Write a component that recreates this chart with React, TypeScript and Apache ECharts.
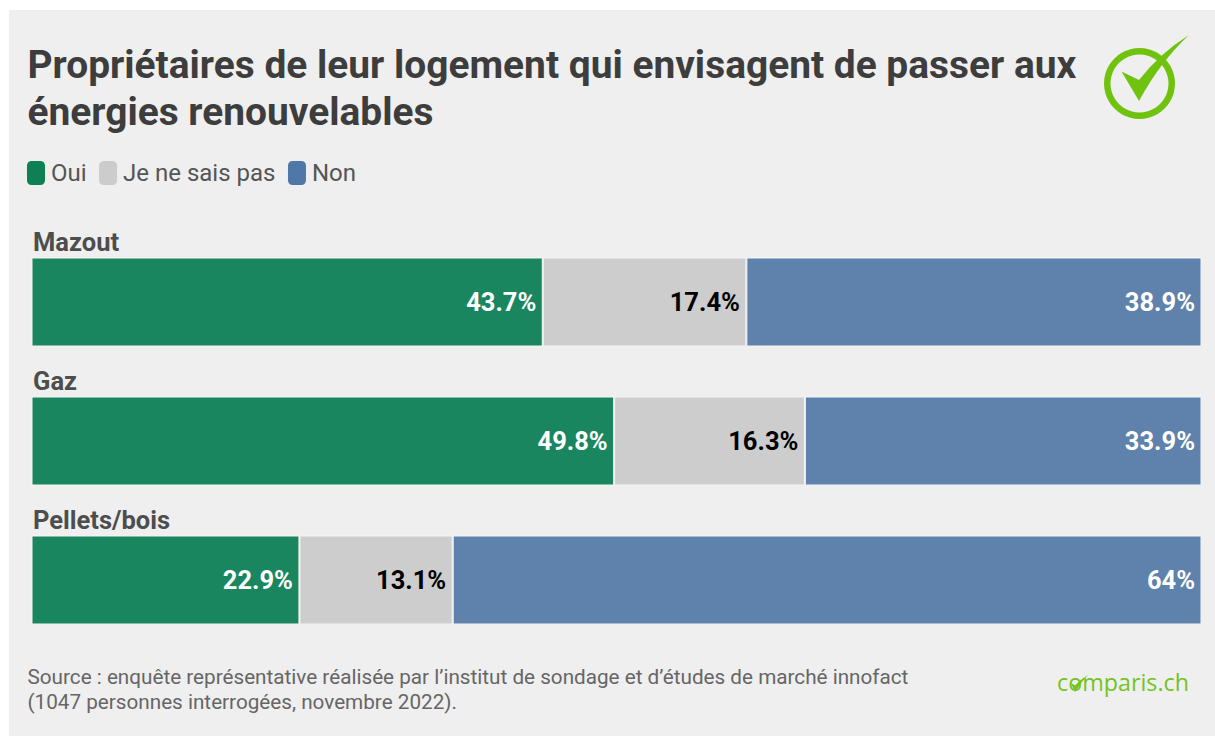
import React, { useEffect, useRef } from "react";
import * as echarts from "echarts";

const categories = ["Mazout", "Gaz", "Pellets/bois"];
const oui = [43.7, 49.8, 22.9];
const nsp = [17.4, 16.3, 13.1];
const non = [38.9, 33.9, 64];
const titleText = "Propriétaires de leur logement qui envisagent de passer aux\nénergies renouvelables";
const sourceText = "Source : enquête représentative réalisée par l’institut de sondage et d’études de marché innofact\n(1047 personnes interrogées, novembre 2022).";

echarts.graphic.registerShape("bigCheck", echarts.graphic.extendPath("M1121.5 71.5 L1139 80 Q1160 53 1189 35 Q1160 62 1139 101 Z", {}));
echarts.graphic.registerShape("smallCheck", echarts.graphic.extendPath("M1070.5 682.5 L1075 685.5 Q1081 679 1088 675 Q1081 682 1075 692 Z", {}));

const mkSeries = (name: string, data: number[], color: string, labelColor: string) => ({
  name,
  type: "bar",
  stack: "total",
  data,
  barWidth: 89,
  itemStyle: { color, borderColor: "#f4f4f4", borderWidth: 1 },
  label: {
    show: true,
    position: "insideRight",
    distance: 6.5,
    formatter: "{c}%",
    color: labelColor,
    fontFamily: "Roboto",
    fontWeight: "bold",
    fontSize: 25.5,
  },
});

export default function App() {
  const ref = useRef<HTMLDivElement>(null);
  useEffect(() => {
    document.body.style.margin = "0";
    const chart = echarts.init(ref.current!, null, { renderer: "svg" });
    chart.setOption({
      animation: false,
      backgroundColor: "#ffffff",
      grid: { left: 31.5, width: 1170, top: 232.5, height: 417 },
      xAxis: { type: "value", min: 0, max: 100, show: false },
      yAxis: {
        type: "category",
        inverse: true,
        data: categories,
        axisLine: { show: false },
        axisTick: { show: false },
        axisLabel: {
          inside: true,
          margin: 0,
          align: "left",
          verticalAlign: "bottom",
          padding: [0, 0, 47, 1.5],
          color: "#4d4d4d",
          fontFamily: "Roboto",
          fontWeight: "bold",
          fontSize: 25.5,
        },
      },
      legend: {
        left: 22,
        top: 156,
        itemWidth: 18,
        itemHeight: 24,
        itemGap: 12.5,
        icon: "roundRect",
        selectedMode: false,
        textStyle: { color: "#555555", fontFamily: "Roboto", fontSize: 24, padding: [0, 0, 0, 1] },
        data: [
          { name: "Oui", itemStyle: { color: "#0f8055", borderWidth: 0 } },
          { name: "Je ne sais pas", itemStyle: { color: "#cccccc", borderWidth: 0 } },
          { name: "Non", itemStyle: { color: "#4f78a8", borderWidth: 0 } },
        ],
      },
      series: [
        mkSeries("Oui", oui, "#1a865f", "#ffffff"),
        mkSeries("Je ne sais pas", nsp, "#cdcdcd", "#000000"),
        mkSeries("Non", non, "#5e82ab", "#ffffff"),
      ],
      graphic: [
        { type: "rect", z: -10, silent: true, shape: { x: 9, y: 10, width: 1206, height: 726 }, style: { fill: "#efefef" } },
        {
          type: "text", x: 27.5, y: 40.5,
          style: { text: titleText, fill: "#3d3d3d", font: "bold 38.9px Roboto", lineHeight: 47.5 },
        },
        {
          type: "text", x: 27.5, y: 664,
          style: { text: sourceText, fill: "#666666", font: "20.7px Roboto", lineHeight: 25.5 },
        },
        { type: "ring", shape: { cx: 1139.5, cy: 83.5, r: 35.5, r0: 29 }, style: { fill: "#6fc30f" } },
        { type: "bigCheck", x: 0, y: 0, style: { fill: "#6fc30f" } },
        {
          type: "text", x: 1057, y: 670,
          style: { text: "comparis.ch", fill: "#74c41e", font: "23.3px 'Open Sans'" },
        },
        { type: "smallCheck", x: 0, y: 0, style: { fill: "#74c41e" } },
      ],
    });
    return () => chart.dispose();
  }, []);
  return <div ref={ref} style={{ position: "fixed", left: 0, top: 0, width: 1215, height: 736 }} />;
}
